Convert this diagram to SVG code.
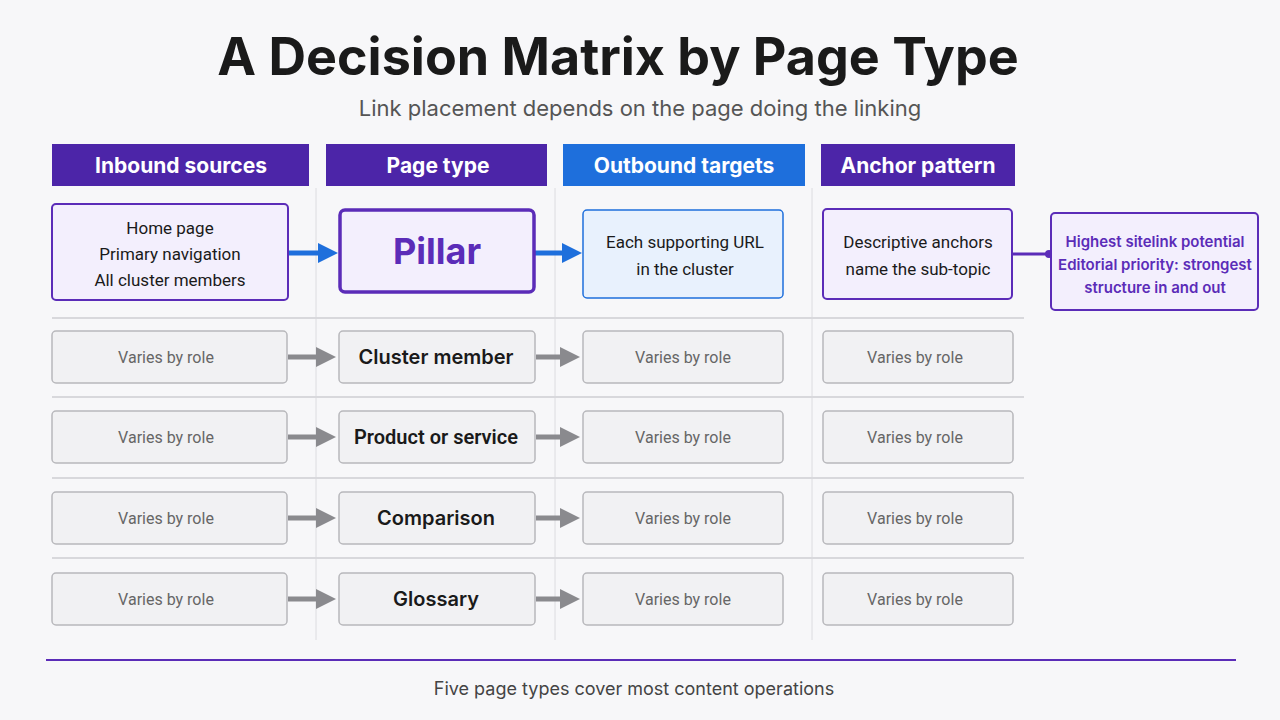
<svg xmlns="http://www.w3.org/2000/svg" width="1280" height="720" viewBox="0 0 1280 720">
<style>
text{font-family:Inter,"Liberation Sans",sans-serif;text-anchor:middle}
.hd{fill:#4c25a8}
.ht{fill:#fff;font-size:21px;font-weight:700}
.gb{fill:#f1f1f3;stroke:#b8b8bc;stroke-width:1.5}
.gt{fill:#666;font-size:16px;font-family:Roboto,"Liberation Sans",sans-serif}
.pt{fill:#1a1a1a;font-size:20px;font-weight:600}
.bt{fill:#1a1a1a;font-size:17px;font-family:Roboto,"Liberation Sans",sans-serif}
.sep{stroke:#d8d8dc;stroke-width:2}
.vl{stroke:#dcdce0;stroke-width:1}
</style>
<defs>
<marker id="ag" markerWidth="4" markerHeight="4" refX="2" refY="2" orient="auto"><path d="M0,0L4,2L0,4z" fill="#8a8a8e"/></marker>
<marker id="ab" markerWidth="4" markerHeight="4" refX="2" refY="2" orient="auto"><path d="M0,0L4,2L0,4z" fill="#1e6fdc"/></marker>
</defs>
<rect width="1280" height="720" fill="#f7f7f9"/>
<text x="618" y="75" font-size="52" font-weight="700" fill="#1a1a1a">A Decision Matrix by Page Type</text>
<text x="640" y="116" font-size="22" fill="#555">Link placement depends on the page doing the linking</text>
<g id="headers">
<rect class="hd" x="52" y="144" width="257" height="42"/><text class="ht" x="181" y="173">Inbound sources</text>
<rect class="hd" x="326" y="144" width="221" height="42"/><text class="ht" x="438" y="173">Page type</text>
<rect x="563" y="144" width="242" height="42" fill="#1e6fdc"/><text class="ht" x="684" y="173">Outbound targets</text>
<rect class="hd" x="821" y="144" width="194" height="42"/><text class="ht" x="918" y="173">Anchor pattern</text>
</g>
<g id="grid">
<line class="vl" x1="316" y1="188" x2="316" y2="640"/>
<line class="vl" x1="555" y1="188" x2="555" y2="640"/>
<line class="vl" x1="812" y1="188" x2="812" y2="640"/>
<line class="sep" x1="52" y1="318" x2="1024" y2="318"/>
<line class="sep" x1="52" y1="397" x2="1024" y2="397"/>
<line class="sep" x1="52" y1="478" x2="1024" y2="478"/>
<line class="sep" x1="52" y1="558" x2="1024" y2="558"/>
</g>
<g id="connectors">
<line x1="288" y1="253" x2="328" y2="253" stroke="#1e6fdc" stroke-width="5" marker-end="url(#ab)"/>
<line x1="535" y1="253" x2="572" y2="253" stroke="#1e6fdc" stroke-width="5" marker-end="url(#ab)"/>
<line x1="1013" y1="254" x2="1048" y2="254" stroke="#5b2cb8" stroke-width="3"/>
<circle cx="1049" cy="254" r="4" fill="#5b2cb8"/>
<g stroke="#8a8a8e" stroke-width="5" marker-end="url(#ag)">
<line x1="288" y1="357" x2="326" y2="357"/><line x1="536" y1="357" x2="570" y2="357"/>
<line x1="288" y1="437" x2="326" y2="437"/><line x1="536" y1="437" x2="570" y2="437"/>
<line x1="288" y1="518" x2="326" y2="518"/><line x1="536" y1="518" x2="570" y2="518"/>
<line x1="288" y1="599" x2="326" y2="599"/><line x1="536" y1="599" x2="570" y2="599"/>
</g>
</g>
<g id="inbound-pillar"><rect x="52" y="204" width="236" height="96" rx="4" fill="#f3effd" stroke="#5b2cb8" stroke-width="2"/>
<text class="bt" x="170" y="234">Home page</text><text class="bt" x="170" y="260">Primary navigation</text><text class="bt" x="170" y="286">All cluster members</text></g>
<g id="pillar"><rect x="340" y="210" width="194" height="82" rx="5" fill="#f3effd" stroke="#5b2cb8" stroke-width="3.5"/>
<text x="437" y="264" font-size="36" font-weight="700" fill="#5b2cb8">Pillar</text></g>
<g id="outbound-pillar"><rect x="583" y="210" width="200" height="88" rx="4" fill="#e8f1fd" stroke="#1e6fdc" stroke-width="1.5"/>
<text class="bt" x="685" y="248">Each supporting URL</text><text class="bt" x="685" y="275">in the cluster</text></g>
<g id="anchor-pillar"><rect x="823" y="209" width="189" height="90" rx="4" fill="#f3effd" stroke="#5b2cb8" stroke-width="2"/>
<text class="bt" x="918" y="248">Descriptive anchors</text><text class="bt" x="918" y="275">name the sub-topic</text></g>
<g id="note"><rect x="1051" y="213" width="207" height="97" rx="4" fill="#f3effd" stroke="#5b2cb8" stroke-width="2"/>
<g fill="#5b2cb8" font-size="15" font-weight="600" style="font-family:Roboto,'Liberation Sans',sans-serif"><text x="1155" y="247">Highest sitelink potential</text><text x="1155" y="270">Editorial priority: strongest</text><text x="1155" y="293">structure in and out</text></g></g>
<g id="row-cluster"><rect class="gb" x="52" y="331" width="235" height="52" rx="4"/><text class="gt" x="166" y="363">Varies by role</text>
<rect class="gb" x="339" y="331" width="196" height="52" rx="4"/><text class="pt" x="436" y="364">Cluster member</text>
<rect class="gb" x="583" y="331" width="200" height="52" rx="4"/><text class="gt" x="683" y="363">Varies by role</text>
<rect class="gb" x="823" y="331" width="190" height="52" rx="4"/><text class="gt" x="915" y="363">Varies by role</text></g>
<g id="row-product"><rect class="gb" x="52" y="411" width="235" height="52" rx="4"/><text class="gt" x="166" y="443">Varies by role</text>
<rect class="gb" x="339" y="411" width="196" height="52" rx="4"/><text class="pt" x="436" y="444" style="font-family:Roboto,'Liberation Sans',sans-serif">Product or service</text>
<rect class="gb" x="583" y="411" width="200" height="52" rx="4"/><text class="gt" x="683" y="443">Varies by role</text>
<rect class="gb" x="823" y="411" width="190" height="52" rx="4"/><text class="gt" x="915" y="443">Varies by role</text></g>
<g id="row-comparison"><rect class="gb" x="52" y="492" width="235" height="52" rx="4"/><text class="gt" x="166" y="524">Varies by role</text>
<rect class="gb" x="339" y="492" width="196" height="52" rx="4"/><text class="pt" x="436" y="525">Comparison</text>
<rect class="gb" x="583" y="492" width="200" height="52" rx="4"/><text class="gt" x="683" y="524">Varies by role</text>
<rect class="gb" x="823" y="492" width="190" height="52" rx="4"/><text class="gt" x="915" y="524">Varies by role</text></g>
<g id="row-glossary"><rect class="gb" x="52" y="573" width="235" height="52" rx="4"/><text class="gt" x="166" y="605">Varies by role</text>
<rect class="gb" x="339" y="573" width="196" height="52" rx="4"/><text class="pt" x="436" y="606">Glossary</text>
<rect class="gb" x="583" y="573" width="200" height="52" rx="4"/><text class="gt" x="683" y="605">Varies by role</text>
<rect class="gb" x="823" y="573" width="190" height="52" rx="4"/><text class="gt" x="915" y="605">Varies by role</text></g>
<line x1="46" y1="660" x2="1236" y2="660" stroke="#5b2cb8" stroke-width="2"/>
<text x="634" y="695" font-size="18" fill="#444">Five page types cover most content operations</text>
</svg>
